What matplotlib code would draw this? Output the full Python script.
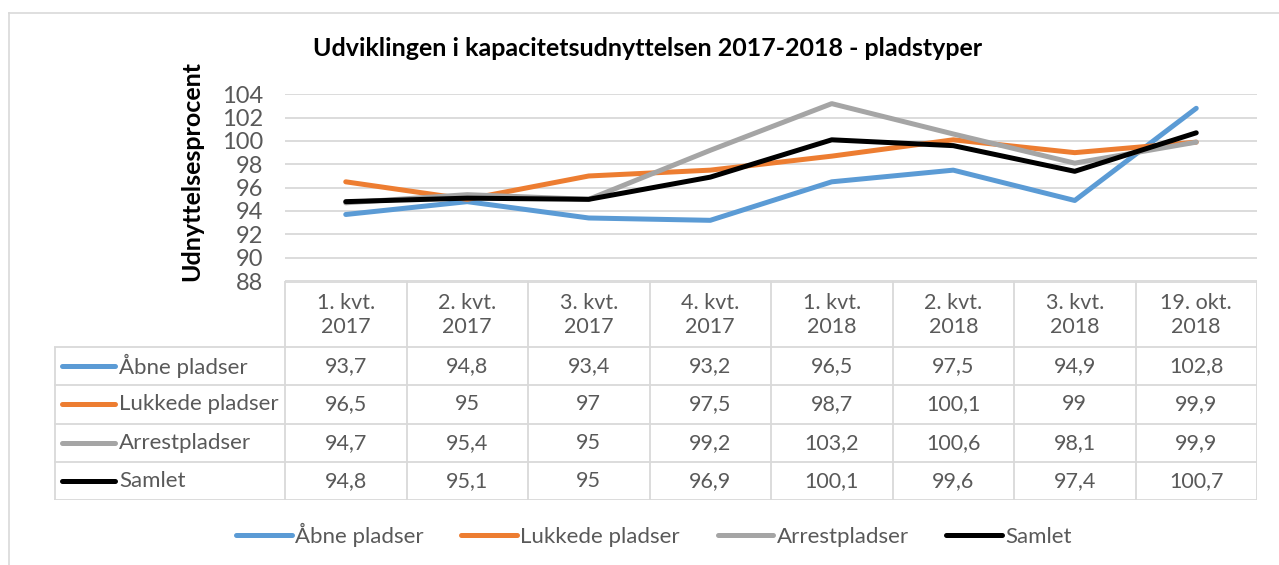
import matplotlib
matplotlib.use("Agg")
import matplotlib.pyplot as plt
from matplotlib.lines import Line2D

categories = ["1. kvt.\n2017", "2. kvt.\n2017", "3. kvt.\n2017", "4. kvt.\n2017",
              "1. kvt.\n2018", "2. kvt.\n2018", "3. kvt.\n2018", "19. okt.\n2018"]
series_names = ["Åbne pladser", "Lukkede pladser", "Arrestpladser", "Samlet"]
aabne = [93.7, 94.8, 93.4, 93.2, 96.5, 97.5, 94.9, 102.8]
lukkede = [96.5, 95, 97, 97.5, 98.7, 100.1, 99, 99.9]
arrest = [94.7, 95.4, 95, 99.2, 103.2, 100.6, 98.1, 99.9]
samlet = [94.8, 95.1, 95, 96.9, 100.1, 99.6, 97.4, 100.7]
yticks = [88, 90, 92, 94, 96, 98, 100, 102, 104]

series = [aabne, lukkede, arrest, samlet]
colors = ["#5b9bd5", "#ed7d31", "#a5a5a5", "#000000"]

plt.rcParams["font.family"] = ["Lato", "DejaVu Sans"]
txt_col = "#595959"
grid_col = "#d9d9d9"

W, H = 1279, 565
fig = plt.figure(figsize=(W / 100, H / 100), dpi=100)


def px_rect(x0, y0, x1, y1):
    # pixel box (top-left origin) -> figure fraction
    return [x0 / W, 1 - y1 / H, (x1 - x0) / W, (y1 - y0) / H]


# outer frame
fig.add_artist(Line2D([9 / W, 9 / W], [0, 1 - 13 / H], color=grid_col, lw=1.2))
fig.add_artist(Line2D([9 / W, 1], [1 - 13 / H, 1 - 13 / H], color=grid_col, lw=1.2))

# main plot
x_left, x_right = 285, 1257
y_top, y_bot = 94.3, 281
ax = fig.add_axes(px_rect(x_left, y_top, x_right, y_bot))
n = len(categories)
for s, c in zip(series, colors):
    ax.plot(range(n), s, color=c, lw=3.6, solid_capstyle="round", zorder=3)
ax.set_xlim(-0.5, n - 0.5)
ax.set_ylim(88, 104)
ax.set_yticks(yticks)
ax.set_yticklabels([str(t) for t in yticks], fontsize=17, color=txt_col)
ax.tick_params(axis="y", length=0, pad=16)
ax.set_xticks([])
for t in yticks:
    ax.axhline(t, color=grid_col, lw=1.3, zorder=1)
for sp in ax.spines.values():
    sp.set_visible(False)

fig.text(192 / W, 1 - 171 / H, "Udnyttelsesprocent", rotation=90, ha="center",
         va="center", fontsize=18, fontweight="bold", color="black")
fig.text(648 / W, 1 - 48 / H, "Udviklingen i kapacitetsudnyttelsen 2017-2018 - pladstyper",
         ha="center", va="center", fontsize=18, fontweight="bold", color="black")

# data table
t_left, t_top, t_bot = 54, 281, 500
cw = (x_right - x_left) / n
tax = fig.add_axes(px_rect(t_left, t_top, x_right, t_bot))
tax.set_xlim(t_left, x_right)
tax.set_ylim(t_bot - t_top, 0)
tax.axis("off")
hdr = 66
rh = (t_bot - t_top - hdr) / len(series)
lk = dict(color=grid_col, lw=1.3, solid_capstyle="butt")
tax.plot([x_left, x_right], [0.5, 0.5], **lk)
for i in range(len(series) + 1):
    y = hdr + i * rh
    tax.plot([t_left, x_right], [y, y], **lk)
tax.plot([t_left + 0.5, t_left + 0.5], [hdr, t_bot - t_top], **lk)
for j in range(n + 1):
    x = x_left + j * cw
    tax.plot([x, x], [0, t_bot - t_top], **lk)
for j, cat in enumerate(categories):
    tax.text(x_left + (j + 0.5) * cw, hdr / 2 + 1, cat, ha="center", va="center",
             fontsize=15.5, color=txt_col, linespacing=1.3)
for i, (name, s, c) in enumerate(zip(series_names, series, colors)):
    yc = hdr + (i + 0.5) * rh
    tax.plot([62, 115], [yc, yc], color=c, lw=3.6, solid_capstyle="round")
    tax.text(119, yc, name, ha="left", va="center", fontsize=16, color=txt_col)
    for j, v in enumerate(s):
        lab = ("%g" % v).replace(".", ",")
        tax.text(x_left + (j + 0.5) * cw, yc, lab, ha="center", va="center",
                 fontsize=15.5, color=txt_col)

# bottom legend
handles = [Line2D([], [], color=c, lw=3.6, solid_capstyle="round") for c in colors]
fig.legend(handles, series_names, loc="center", bbox_to_anchor=(654 / W, 1 - 535 / H),
           ncol=4, frameon=False, fontsize=16, handlelength=2.5, handletextpad=0.15,
           columnspacing=1.7, labelcolor=txt_col)

fig.savefig("out.png", dpi=100)
